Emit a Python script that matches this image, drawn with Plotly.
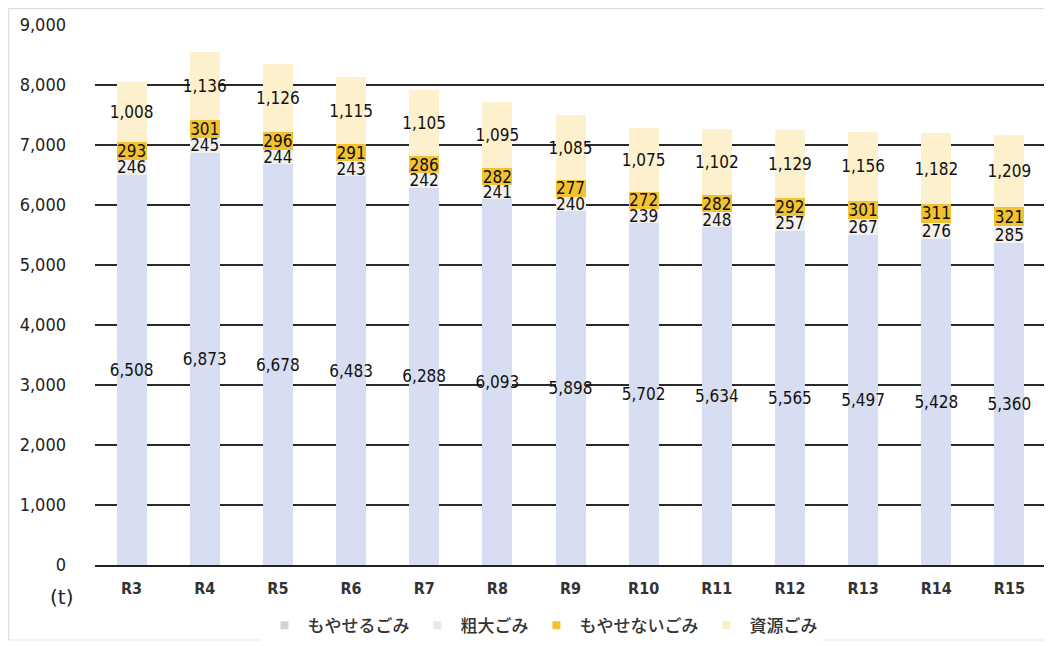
import plotly.graph_objects as go

categories = ["R3", "R4", "R5", "R6", "R7", "R8", "R9", "R10", "R11", "R12", "R13", "R14", "R15"]
moyaseru = [6508, 6873, 6678, 6483, 6288, 6093, 5898, 5702, 5634, 5565, 5497, 5428, 5360]
sodai = [246, 245, 244, 243, 242, 241, 240, 239, 248, 257, 267, 276, 285]
moyasenai = [293, 301, 296, 291, 286, 282, 277, 272, 282, 292, 301, 311, 321]
shigen = [1008, 1136, 1126, 1115, 1105, 1095, 1085, 1075, 1102, 1129, 1156, 1182, 1209]

series = [
    ("もやせるごみ", moyaseru, "#d8def2", "#d4d4d4"),
    ("粗大ごみ", sodai, "#f3f1ee", "#e8e8e8"),
    ("もやせないごみ", moyasenai, "#f2c230", "#f2c230"),
    ("資源ごみ", shigen, "#fdf0cc", "#fbefc4"),
]

NUM_FONT = "DejaVu Sans Condensed, Noto Sans CJK JP, sans-serif"
JP_FONT = "Noto Sans CJK JP, sans-serif"

fig = go.Figure()
for name, vals, color, _ in series:
    fig.add_trace(go.Bar(
        x=categories, y=vals, name=name,
        marker=dict(color=color, line=dict(width=0)),
        text=[f"{v:,}" for v in vals],
        textposition="inside",
        insidetextanchor="middle",
        textangle=0,
        textfont=dict(family=NUM_FONT, size=17, color="#111111"),
        width=0.41,
        showlegend=False,
    ))

# legend entries with small square markers
for name, vals, _, lcolor in series:
    fig.add_trace(go.Scatter(
        x=[None], y=[None], mode="markers", name=name,
        marker=dict(symbol="square", size=8, color=lcolor),
    ))

fig.update_layout(
    width=1052, height=646,
    barmode="stack",
    paper_bgcolor="white", plot_bgcolor="white",
    margin=dict(l=87, r=14, t=17, b=89, autoexpand=False),
    uniformtext=dict(minsize=17, mode="show"),
    font=dict(family=JP_FONT, color="#222222"),
    showlegend=True,
    legend=dict(orientation="h", x=0.47, xanchor="center", y=-0.079, yanchor="top",
                font=dict(family=JP_FONT, size=17, color="#333333", weight=500),
                itemwidth=36, traceorder="normal"),
    xaxis=dict(showgrid=False, showline=True, linecolor="#222222", linewidth=2,
               automargin=False,
               ticks="", tickfont=dict(family=NUM_FONT, size=16, color="#333333", weight="bold"),
               ticklabelstandoff=8),
    yaxis=dict(range=[0, 9000], dtick=1000, tickformat=",", showgrid=True,
               automargin=False,
               gridcolor="#2a2a2a", gridwidth=2, zeroline=False, showline=False,
               tickfont=dict(family=NUM_FONT, size=18, color="#222222"),
               ticks="", ticklabelstandoff=28),
)

fig.add_annotation(text="(t)", xref="paper", yref="paper", x=-0.035, y=-0.06,
                   xanchor="center", yanchor="middle", showarrow=False,
                   font=dict(family="DejaVu Sans", size=20, color="#222222"))

# outer chart border (light)
fig.add_shape(type="line", xref="paper", yref="paper", x0=-0.091, x1=1.012, y0=1.0306, y1=1.0306,
              line=dict(color="#dddddd", width=1.5))
fig.add_shape(type="line", xref="paper", yref="paper", x0=-0.091, x1=-0.091, y0=1.0306, y1=-0.139,
              line=dict(color="#dddddd", width=1.5))
fig.add_shape(type="line", xref="paper", yref="paper", x0=-0.091, x1=1.012, y0=-0.139, y1=-0.139,
              line=dict(color="#eeeeee", width=1.5))

fig.write_html("out.html")
